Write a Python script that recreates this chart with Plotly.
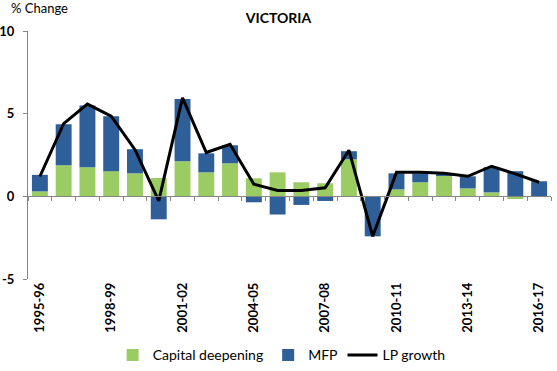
import plotly.graph_objects as go

years = ["1995-96", "1996-97", "1997-98", "1998-99", "1999-00", "2000-01", "2001-02",
         "2002-03", "2003-04", "2004-05", "2005-06", "2006-07", "2007-08", "2008-09",
         "2009-10", "2010-11", "2011-12", "2012-13", "2013-14", "2014-15", "2015-16", "2016-17"]
capital_deepening = [0.30, 1.88, 1.76, 1.52, 1.39, 1.11, 2.12, 1.45, 2.00, 1.09, 1.45,
                     0.85, 0.79, 2.24, 0.00, 0.42, 0.85, 1.27, 0.48, 0.24, -0.16, 0.00]
mfp = [1.00, 2.48, 3.74, 3.33, 1.46, -1.39, 3.76, 1.15, 1.09, -0.36, -1.10,
       -0.52, -0.28, 0.49, -2.42, 0.97, 0.54, 0.08, 0.73, 1.52, 1.52, 0.91]
lp_growth = [1.20, 4.40, 5.58, 4.85, 2.82, -0.28, 5.95, 2.65, 3.15, 0.73, 0.36,
             0.36, 0.52, 2.79, -2.42, 1.45, 1.45, 1.39, 1.21, 1.82, 1.36, 0.85]
tick_labels = ["1995-96", "1998-99", "2001-02", "2004-05", "2007-08", "2010-11", "2013-14", "2016-17"]

GREEN = "#9BCB63"
BLUE = "#2F5F98"
AXIS = "#868686"
FONT = "Lato"

fig = go.Figure()
fig.add_trace(go.Bar(x=years, y=capital_deepening, name="Capital deepening",
                     marker=dict(color=GREEN, line=dict(width=0))))
fig.add_trace(go.Bar(x=years, y=mfp, name="MFP",
                     marker=dict(color=BLUE, line=dict(width=0))))
fig.add_trace(go.Scatter(x=years, y=lp_growth, name="LP growth", mode="lines",
                         line=dict(color="black", width=3)))
# invisible trace to drive the zero-line tick axis
fig.add_trace(go.Scatter(x=[-0.5, len(years) - 0.5], y=[0, 0], xaxis="x2", mode="lines",
                         line=dict(width=0), showlegend=False, hoverinfo="skip"))

fig.update_layout(
    width=557, height=371,
    margin=dict(l=28, r=6, t=31, b=92, autoexpand=False),
    paper_bgcolor="white", plot_bgcolor="white",
    barmode="relative", bargap=0.33,
    font=dict(family=FONT, size=13, color="black"),
    title=dict(text="<b>VICTORIA</b>", xref="container", x=0.5, xanchor="center",
               yref="container", y=0.952, yanchor="middle",
               font=dict(family=FONT, size=14, color="black")),
    showlegend=True,
    legend=dict(orientation="h", x=0.485, xanchor="center", y=-0.308, yanchor="middle",
                font=dict(family=FONT, size=14, color="black"), traceorder="normal"),
    xaxis=dict(type="category", categoryorder="array", categoryarray=years,
               range=[-0.5, len(years) - 0.5], automargin=False,
               tickmode="array", tickvals=tick_labels, ticktext=["<b>%s</b>" % t for t in tick_labels],
               tickangle=-90, ticks="", showline=False, showgrid=False, zeroline=False,
               tickfont=dict(family=FONT, size=13, color="black")),
    xaxis2=dict(overlaying="x", anchor="free", position=1/3, range=[-0.5, len(years) - 0.5],
                tickmode="array", tickvals=[i - 0.5 for i in range(len(years) + 1)],
                showticklabels=False, ticks="outside", ticklen=4, tickcolor=AXIS, automargin=False,
                showline=True, linecolor=AXIS, linewidth=1, showgrid=False, zeroline=False),
    yaxis=dict(range=[-5, 10], tickmode="array", tickvals=[-5, 0, 5, 10],
               ticktext=["<b>-5</b>", "<b>0</b>", "<b>5</b>", "<b>10</b>"], automargin=False,
               ticks="outside", ticklen=4, tickcolor=AXIS, showline=True, linecolor=AXIS,
               linewidth=1, showgrid=False, zeroline=False, ticklabelstandoff=6,
               tickfont=dict(family=FONT, size=13, color="black")),
    annotations=[dict(text="% Change", xref="paper", yref="paper", x=-0.036, y=1.093,
                      xanchor="left", yanchor="middle", showarrow=False,
                      font=dict(family=FONT, size=13, color="black"))],
)

fig.write_html("out.html", config={"displayModeBar": False},
               post_script="document.body.style.margin='0';document.body.style.padding='0';")
